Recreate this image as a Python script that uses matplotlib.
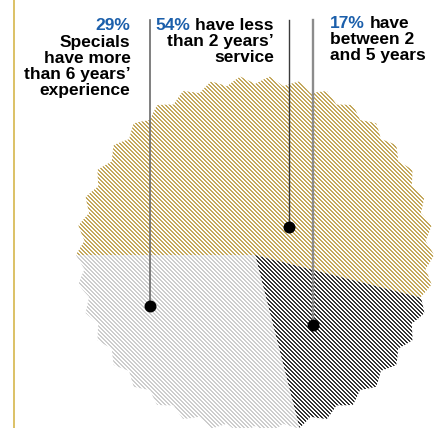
import matplotlib.pyplot as plt
import numpy as np
from matplotlib.patches import Polygon
from matplotlib.colors import to_rgba

# data: share of specials by length of service (clockwise from 9 o'clock)
shares = [54, 17, 29]
hatch_colors = ['#c4a85c', '#333333', '#cdcdcd']

pct_29 = '29%'
text_29 = ['Specials', 'have more', 'than 6 years\u2019', 'experience']
pct_54 = '54%'
text_54 = ['have less', 'than 2 years\u2019', 'service']
pct_17 = '17%'
text_17 = ['have', 'between 2', 'and 5 years']

blue = '#1b5fab'

W, H = 443, 428

# figure in pixel coordinates
fig = plt.figure(figsize=(W / 100, H / 100), dpi=100)
ax = fig.add_axes([0, 0, 1, 1])

cx, cy = 255, 255
r_in, r_out = 171, 179
n_teeth = 38
period = 360 / n_teeth


def edge_radius(theta):
    s = (180 - theta) / period
    frac = s - np.floor(s)
    return r_in + (r_out - r_in) * np.abs(2 * frac - 1)


def slice_polygon(a0, a1):
    th = np.linspace(a0, a1, 800)
    r = edge_radius(th)
    xs = cx + r * np.cos(np.radians(th))
    ys = cy - r * np.sin(np.radians(th))
    pts = np.column_stack([np.r_[cx, xs], np.r_[cy, ys]])
    return pts


# pixel hatch texture, "\" lines, 2px on / 2px off
yy, xx = np.mgrid[0:H, 0:W]
stripe = ((xx - yy) % 4) < 2

start = 180.0
for share, col in zip(shares, hatch_colors):
    span = share / 100 * 360
    poly = Polygon(slice_polygon(start, start - span), closed=True,
                   facecolor='none', edgecolor='none', linewidth=0)
    ax.add_patch(poly)
    tex = np.zeros((H, W, 4))
    tex[stripe] = to_rgba(col)
    im = ax.imshow(tex, extent=(0, W, H, 0), interpolation='nearest',
                   origin='upper')
    im.set_clip_path(poly)
    start -= span

ax.set_xlim(0, W)
ax.set_ylim(H, 0)
ax.set_aspect('auto')
ax.axis('off')

# gold rule on the left
ax.axvline(14, color='#d6b64c', lw=1.2)

# leader lines and dots
ax.plot([150, 150], [20, 306], color='#6a6a6a', lw=1.2)
ax.plot([289, 289], [20, 227], color='#3c3c3c', lw=1.0)
ax.plot([313, 313], [20, 325], color='#8c8c8c', lw=1.7)
ax.plot([150, 289, 313], [306, 227, 325], 'o', color='black',
        markersize=8.6, markeredgewidth=0)

font = dict(family='Liberation Sans', weight='bold', fontsize=12.5)

# 29% block, right aligned
ax.text(130.5, 30, pct_29, color=blue, ha='right', va='baseline', **font)
for i, line in enumerate(text_29):
    ax.text(130.5, 46.5 + 16 * i, line, color='black', ha='right',
            va='baseline', **font)

# 54% block, right aligned
t54 = ax.text(274, 30, text_54[0], color='black', ha='right',
              va='baseline', **font)
ax.annotate(pct_54, xy=(0, 0), xycoords=t54, xytext=(-3.5, 0),
            textcoords='offset points', ha='right', va='bottom',
            color=blue, **font)
for i, line in enumerate(text_54[1:]):
    ax.text(274, 46 + 16 * i, line, color='black', ha='right',
            va='baseline', **font)

# 17% block, left aligned
t17 = ax.text(330, 28, pct_17, color=blue, ha='left', va='baseline', **font)
ax.annotate(text_17[0], xy=(1, 0), xycoords=t17, xytext=(3.5, 0),
            textcoords='offset points', ha='left', va='bottom',
            color='black', **font)
for i, line in enumerate(text_17[1:]):
    ax.text(330, 44 + 16.3 * i, line, color='black', ha='left',
            va='baseline', **font)

fig.savefig('out.png', dpi=100)
